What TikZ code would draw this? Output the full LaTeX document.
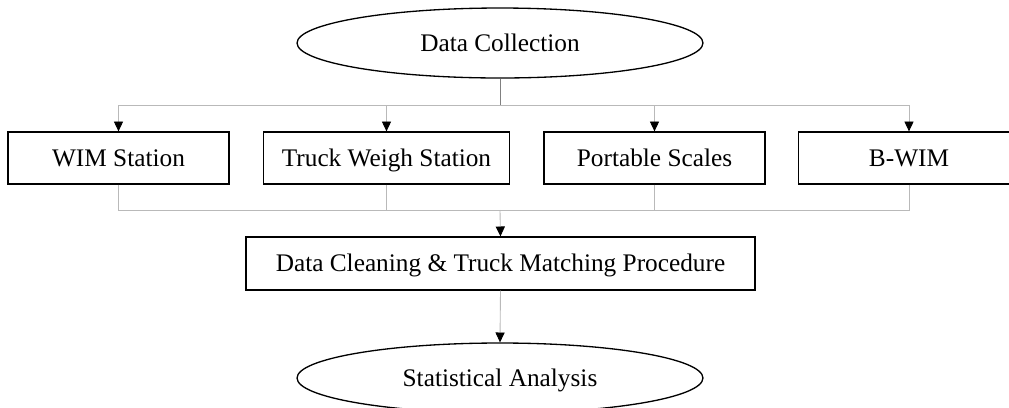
\documentclass[tikz,border=0pt]{standalone}
\usepackage{fontspec}
\setmainfont{Liberation Serif}
\usetikzlibrary{shapes.geometric,arrows.meta,positioning}

\begin{document}
\begin{tikzpicture}[x=0.02cm,y=-0.02cm,
    box/.style={rectangle,draw,line width=0.75pt,minimum width=4.42cm,minimum height=1.04cm,
        text height=9.5pt,text depth=0pt,font=\fontsize{14.4}{17}\selectfont},
    oval/.style={ellipse,draw,line width=0.75pt,minimum width=8.12cm,minimum height=1.4cm,
        text height=9.5pt,text depth=0pt,font=\fontsize{14.4}{17}\selectfont},
    link/.style={draw=gray!55,line width=0.5pt},
    arr/.style={link,-{Triangle[black,length=5.6pt,width=5.2pt]}}]

    \path[use as bounding box,clip] (0,0) rectangle (1009,407);

    % start and end
    \node[oval] (dc) at (500,43) {Data Collection};
    \node[oval] (sa) at (500,378) {Statistical Analysis};

    % the four sources
    \foreach \n/\x/\w/\t in {wim/118.5/4.42cm/WIM Station,
                             tws/386.5/4.92cm/Truck Weigh Station,
                             ps/654.5/4.42cm/Portable Scales,
                             bwim/909/4.42cm/B-WIM}{
        \node[box,minimum width=\w] (\n) at (\x,158) {\t};
    }

    \node[box,minimum width=10.18cm,minimum height=1.06cm] (clean) at (500.5,263.5) {Data Cleaning \& Truck Matching Procedure};

    \coordinate (split) at (500,105);
    \coordinate (merge) at (500,210);

    \draw[link,draw=gray] (dc.south) -- (split);
    \foreach \n in {wim,tws,ps,bwim}{
        \draw[arr] (split) -| (\n.north);
        \draw[link] (\n.south) |- (merge);
    }
    \draw[arr] (merge) -- (clean.north);
    \draw[arr] (clean.south) -- (sa.north);

\end{tikzpicture}
\end{document}
